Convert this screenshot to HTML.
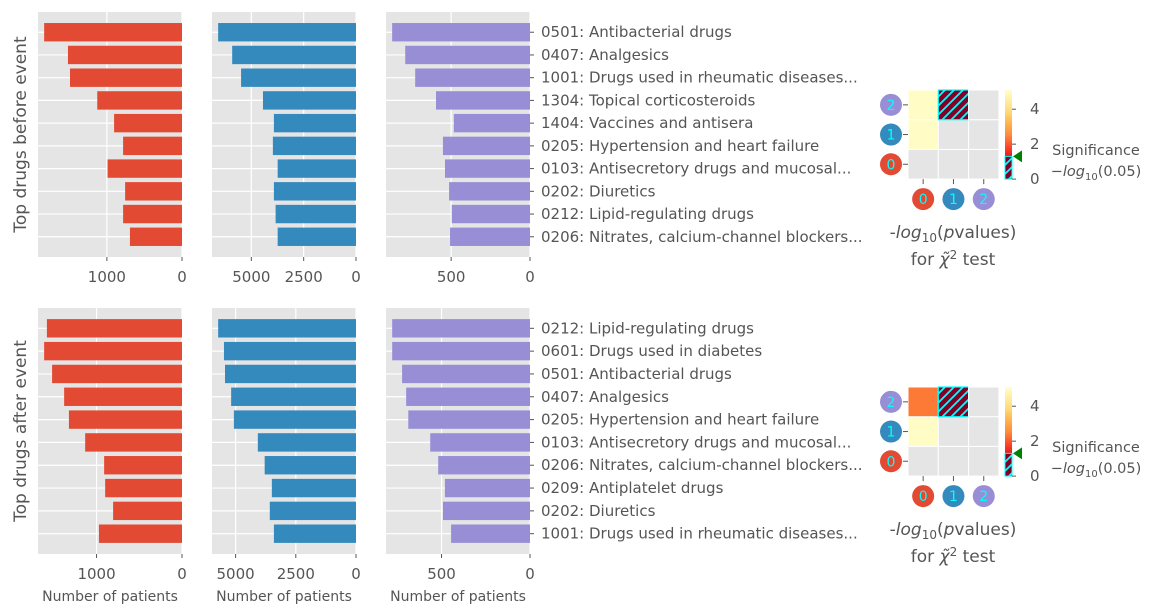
<!DOCTYPE html>
<html><head><meta charset="utf-8"><style>
html,body{margin:0;padding:0;background:#fff;}
svg{display:block;font-family:"DejaVu Sans","Liberation Sans",sans-serif;}
</style></head><body>
<svg id="chart" width="1157" height="615" viewBox="0 0 1157 615" xmlns="http://www.w3.org/2000/svg">
<defs>
<pattern id="hatch" patternUnits="userSpaceOnUse" width="9" height="9">
<rect width="9" height="9" fill="#800026"/>
<path d="M-2,2 l4,-4 M0,9 l9,-9 M7,11 l4,-4" stroke="#00ffff" stroke-width="1.8"/>
</pattern>
</defs>
</svg>
<script>
// ---- data ----
const beforeLabels = ["0501: Antibacterial drugs","0407: Analgesics","1001: Drugs used in rheumatic diseases...","1304: Topical corticosteroids","1404: Vaccines and antisera","0205: Hypertension and heart failure","0103: Antisecretory drugs and mucosal...","0202: Diuretics","0212: Lipid-regulating drugs","0206: Nitrates, calcium-channel blockers..."];
const afterLabels = ["0212: Lipid-regulating drugs","0601: Drugs used in diabetes","0501: Antibacterial drugs","0407: Analgesics","0205: Hypertension and heart failure","0103: Antisecretory drugs and mucosal...","0206: Nitrates, calcium-channel blockers...","0209: Antiplatelet drugs","0202: Diuretics","1001: Drugs used in rheumatic diseases..."];
const beforeRed = [1835,1518,1491,1128,904,784,991,757,784,693];
const beforeBlue = [6585,5915,5490,4444,3922,3971,3742,3922,3840,3742];
const beforePurple = [874,791,728,596,483,552,539,513,496,507];
const afterRed = [1581,1613,1520,1379,1323,1133,911,899,806,972];
const afterBlue = [5724,5483,5440,5185,5071,4077,3793,3494,3580,3409];
const afterPurple = [779,779,723,700,688,564,519,481,492,446];
const maxBefore = [1917,6879,913];
const maxAfter = [1685,5980,814];
const ticksRed = [1000,0];
const ticksBlue = [5000,2500,0];
const ticksPurple = [500,0];
// heatmap values (rows 0..2 bottom to top, cols 0..2); null = not tested
const heatBefore = [[null,null,null],[4.9,null,null],[4.9,0.5,null]];
const heatAfter = [[null,null,null],[4.9,null,null],[2.3,0.5,null]];
const threshold = 1.301;
const cbTicks = [0,2,4];

const NS="http://www.w3.org/2000/svg";
const svg=document.getElementById('chart');
function el(tag,attrs,parent){const e=document.createElementNS(NS,tag);for(const k in attrs)e.setAttribute(k,attrs[k]);(parent||svg).appendChild(e);return e;}
function txt(s,attrs,parent){const e=el('text',attrs,parent);e.textContent=s;return e;}

const colors=["#E24A33","#348ABD","#988ED5"];
const panelsX=[[38,182],[212,356],[386,530]];
const rows=[{top:12,bot:257,labels:beforeLabels,data:[beforeRed,beforeBlue,beforePurple],max:maxBefore,title:"Top drugs before event",xlab:false},
            {top:308,bot:554,labels:afterLabels,data:[afterRed,afterBlue,afterPurple],max:maxAfter,title:"Top drugs after event",xlab:true}];
const ticks=[ticksRed,ticksBlue,ticksPurple];

rows.forEach((r,ri)=>{
  const n=10, lo=-0.4-0.49, hi=9.4+0.49;
  const y=i=>r.top+(i-lo)/(hi-lo)*(r.bot-r.top);
  const g=el('g',{});
  
  
  for(let p=0;p<3;p++){
    const [x0,x1]=panelsX[p];
    const x=v=>x1-v/r.max[p]*(x1-x0);
    const bg=el('rect',{x:x0,y:r.top,width:x1-x0,height:r.bot-r.top,fill:"#E5E5E5"},g);
    
    
    ticks[p].forEach(t=>{
      el('line',{x1:x(t),x2:x(t),y1:r.top,y2:r.bot,stroke:"#fff","stroke-width":1.2},g);
      el('line',{x1:x(t),x2:x(t),y1:r.bot,y2:r.bot+4,stroke:"#555","stroke-width":1},g);
      const tl=txt(String(t),{x:x(t),y:r.bot+25,"text-anchor":"middle","font-size":15,fill:"#555"},g);
      
      
    });
    for(let i=0;i<n;i++) el('line',{x1:x0,x2:x1,y1:y(i),y2:y(i),stroke:"#fff","stroke-width":1.2},g);
    r.data[p].forEach((v,i)=>{
      const b=el('rect',{x:x(v),y:y(i)-0.4*23,width:x1-x(v),height:0.8*23,fill:colors[p]},g);
      
      
    });
    if(r.xlab){
      const xl=txt("Number of patients",{x:(x0+x1)/2,y:r.bot+47,"text-anchor":"middle","font-size":14,fill:"#555"},g);
      
      
    }
  }
  r.labels.forEach((s,i)=>{
    el('line',{x1:530,x2:534,y1:y(i),y2:y(i),stroke:"#555","stroke-width":1},g);
    const t=txt(s,{x:541,y:y(i)+5,"font-size":15,fill:"#555"},g);
    
    
  });
  const yt=txt(r.title,{x:0,y:0,"text-anchor":"middle","font-size":17,fill:"#555",transform:`translate(26,${(r.top+r.bot)/2}) rotate(-90)`},g);
  
  
});

// heatmaps
const stops=["#800026","#bd0026","#e31a1c","#fc4e2a","#fd8d3c","#feb24c","#fed976","#ffeda0","#ffffcc"];
function hex(h){return [1,3,5].map(k=>parseInt(h.substr(k,2),16));}
function cmap(v){let t=Math.max(0,Math.min(1,v/5))*8;const i=Math.min(7,Math.floor(t));const f=t-i;const a=hex(stops[i]),b=hex(stops[i+1]);return `rgb(${a.map((c,k)=>Math.round(c+(b[k]-c)*f)).join(',')})`;}
const gradId='cbgrad';
const grad=el('linearGradient',{id:gradId,x1:0,y1:1,x2:0,y2:0},svg.querySelector('defs'));
stops.forEach((s,i)=>el('stop',{offset:i/8,"stop-color":s},grad));

[{top:90,vals:heatBefore},{top:387,vals:heatAfter}].forEach((h,hi)=>{
  const g=el('g',{});
  
  
  const x0=908,cw=30.3,ch=29.7;
  for(let r=0;r<3;r++)for(let c=0;c<3;c++){
    const v=h.vals[r][c];
    const cx=x0+c*cw, cy=h.top+(2-r)*ch;
    let fill="#E5E5E5";
    if(v!==null) fill = v<threshold ? "url(#hatch)" : cmap(v);
    const cell=el('rect',{x:cx,y:cy,width:cw,height:ch,fill:fill,stroke:(v!==null&&v<threshold)?"#00ffff":"#fff","stroke-width":(v!==null&&v<threshold)?1.2:1},g);
    
    
  }
  const bottom=h.top+3*ch;
  for(let k=0;k<3;k++){
    const cyc=h.top+(2-k)*ch+ch/2;
    el('line',{x1:903,x2:908,y1:cyc,y2:cyc,stroke:"#555"},g);
    el('circle',{cx:891,cy:cyc,r:11,fill:colors[k]},g);
    const t1=txt(String(k),{x:891,y:cyc+5,"text-anchor":"middle","font-size":14,fill:"#00ffff"},g);
    
    
    const cxx=x0+k*cw+cw/2;
    el('line',{x1:cxx,x2:cxx,y1:bottom,y2:bottom+5,stroke:"#555"},g);
    el('circle',{cx:cxx,cy:bottom+20,r:11,fill:colors[k]},g);
    const t2=txt(String(k),{x:cxx,y:bottom+25,"text-anchor":"middle","font-size":14,fill:"#00ffff"},g);
    
    
  }
  // colorbar
  const cbx=1005,cbw=7,cbTop=h.top,cbBot=bottom;
  const cy=v=>cbBot-v/5.1*(cbBot-cbTop);
  const cb=el('rect',{x:cbx,y:cbTop,width:cbw,height:cbBot-cbTop,fill:`url(#${gradId})`},g);
  
  
  el('rect',{x:cbx,y:cy(threshold),width:cbw,height:cbBot-cy(threshold),fill:"url(#hatch)",stroke:"#00ffff","stroke-width":1},g);
  cbTicks.forEach(t=>{
    el('line',{x1:cbx+cbw,x2:cbx+cbw+4,y1:cy(t),y2:cy(t),stroke:"#555"},g);
    const tl=txt(String(t),{x:cbx+cbw+18,y:cy(t)+5,"font-size":15,fill:"#555"},g);
    
    
  });
  const tri=el('polygon',{points:`${cbx+cbw+1},${cy(threshold)} ${cbx+cbw+10},${cy(threshold)-6} ${cbx+cbw+10},${cy(threshold)+6}`,fill:"#008000"},g);
  
  
  const s1=txt("Significance",{x:1096,y:h.top+65,"text-anchor":"middle","font-size":14.5,fill:"#555"},g);
  
  
  const s2=el('text',{x:1096,y:h.top+86,"text-anchor":"middle","font-size":14.5,fill:"#555"},g);
  s2.innerHTML='−<tspan font-style="italic">log</tspan><tspan font-size="10" dy="4">10</tspan><tspan dy="-4">(0.05)</tspan>';
  
  
  const l1=el('text',{x:953,y:bottom+59,"text-anchor":"middle","font-size":17,fill:"#555"},g);
  l1.innerHTML='-<tspan font-style="italic">log</tspan><tspan font-size="12" dy="4">10</tspan><tspan dy="-4">(</tspan><tspan font-style="italic">p</tspan>values)';
  
  
  const l2=el('text',{x:953,y:bottom+86,"text-anchor":"middle","font-size":17,fill:"#555"},g);
  l2.innerHTML='for <tspan font-style="italic">χ̃</tspan><tspan font-size="12" dy="-6">2</tspan><tspan dy="6"> test</tspan>';
  
  
});
</script>
</body></html>
